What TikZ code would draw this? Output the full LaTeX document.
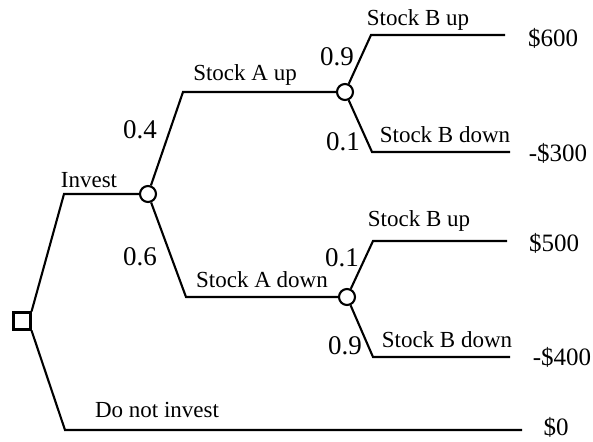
\documentclass[tikz,border=0pt]{standalone}
\usepackage{fontspec}
\setmainfont{Liberation Serif}
\begin{document}
\begin{tikzpicture}[x=1pt,y=-1pt, line width=2.1pt, line join=miter,
  lbl/.style={font=\fontsize{23}{26}\selectfont, inner sep=0pt},
  prob/.style={font=\fontsize{27}{30}\selectfont, inner sep=0pt},
  val/.style={font=\fontsize{25}{28}\selectfont, inner sep=0pt},
  dec/.style={draw, rectangle, minimum size=17pt, inner sep=0pt},
  chance/.style={draw, circle, minimum size=16pt, inner sep=0pt, fill=white}]
\useasboundingbox (0,0) rectangle (593,441);
% decision and chance nodes
\node[dec] (sq) at (22,321) {};
\node[chance] (c1) at (148,194) {};
\node[chance] (c2) at (345,92) {};
\node[chance] (c3) at (347,297) {};
% bend and end points
\coordinate (inv) at (64,194);
\coordinate (ni) at (65,430);
\coordinate (nie) at (522,430);
\coordinate (au) at (183,92);
\coordinate (ad) at (186,297);
\coordinate (bu1) at (371,35);
\coordinate (bu1e) at (505,35);
\coordinate (bd1) at (372,152);
\coordinate (bd1e) at (510,152);
\coordinate (bu2) at (373,241);
\coordinate (bu2e) at (507,241);
\coordinate (bd2) at (373,357);
\coordinate (bd2e) at (510,357);
% branches
\draw (sq.north east) -- (inv) -- (c1.west);
\draw (sq.south east) -- (ni) -- (nie);
\draw (c1) -- (au) -- (c2.west);
\draw (c1) -- (ad) -- (c3.west);
\draw (c2) -- (bu1) -- (bu1e);
\draw (c2) -- (bd1) -- (bd1e);
\draw (c3) -- (bu2) -- (bu2e);
\draw (c3) -- (bd2) -- (bd2e);
% branch labels
\node[lbl] (tinv) at (89,180) {Invest};
\node[lbl] (tni) at (157,410) {Do not invest};
\node[lbl] (tau) at (245,75) {Stock A up};
\node[lbl] (tad) at (262,280) {Stock A down};
\node[lbl] (tbu1) at (418,20) {Stock B up};
\node[lbl] (tbd1) at (445,135) {Stock B down};
\node[lbl] (tbu2) at (419,221) {Stock B up};
\node[lbl] (tbd2) at (447,340) {Stock B down};
% probabilities
\node[prob] (p04) at (140,130) {0.4};
\node[prob] (p06) at (140,257) {0.6};
\node[prob] (p09a) at (337,57) {0.9};
\node[prob] (p01a) at (343,142) {0.1};
\node[prob] (p01b) at (342,258) {0.1};
\node[prob] (p09b) at (345,346) {0.9};
% payoffs
\node[val] (v600) at (553,38) {\$600};
\node[val] (v300) at (558,153) {-\$300};
\node[val] (v500) at (554,243) {\$500};
\node[val] (v400) at (562,357) {-\$400};
\node[val] (v0) at (556,427) {\$0};
\end{tikzpicture}
\end{document}
